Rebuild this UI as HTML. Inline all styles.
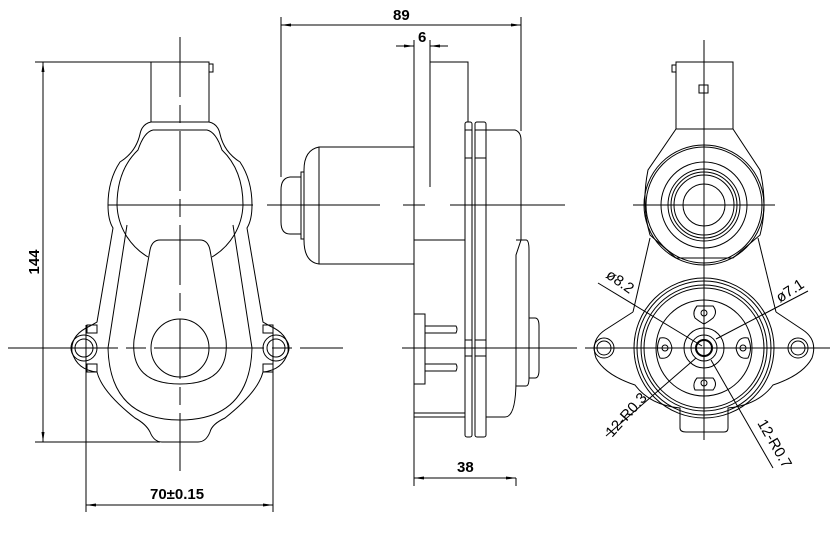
<!DOCTYPE html>
<html><head><meta charset="utf-8"><style>
html,body{margin:0;padding:0;background:#fff}
svg{display:block}
text{font-family:"Liberation Sans",sans-serif;font-size:15px;fill:#000}
</style></head><body>
<svg width="837" height="548" viewBox="0 0 837 548" xmlns="http://www.w3.org/2000/svg">
<defs>
<marker id="a" viewBox="0 0 10 6" refX="10" refY="3" markerWidth="10" markerHeight="6" orient="auto-start-reverse"><path d="M0,1.5 L10,3 L0,4.5 Z" fill="#000"/></marker>
</defs>
<g fill="none" stroke="#000" stroke-width="1">
<!-- ========== LEFT VIEW ========== -->
<line x1="180" y1="37" x2="180" y2="471" stroke-dasharray="60 8 18 8"/>
<line x1="8" y1="348" x2="343" y2="348" stroke-dasharray="110 8 20 8"/>
<line x1="108" y1="205" x2="253" y2="205"/>
<rect x="151" y="62" width="58" height="60"/>
<rect x="209" y="64" width="4" height="8"/>
<!-- outer -->
<path d="M151,122 L209,122 Q218,124 220,134 Q224,152 240,162 Q252,180 252,205 Q252,220 247,228 L263,322 L270,326 Q290,335 288,352 Q283,370 263,372 Q258,392 225,418 Q212,424 210,432 Q206,442 198,442 L162,442 Q154,442 150,432 Q146,424 135,418 Q102,392 97,372 Q77,370 72,352 Q70,335 90,326 L97,322 L113,228 Q108,220 108,205 Q108,180 120,162 Q136,152 140,134 Q142,124 151,122 Z"/>
<path d="M153,130 L207,130 Q216,132 222,150 Q243,170 243,205 A63,63 0 0 1 212,257"/>
<path d="M207,130"/>
<path d="M153,130 Q144,132 138,150 Q117,170 117,205 A63,63 0 0 0 148,257"/>
<!-- tongue -->
<path d="M160,240 L200,240 Q208,240 210,250 L226,340 Q230,384 180,384 Q130,384 134,340 L150,250 Q152,240 160,240 Z"/>
<circle cx="180" cy="348" r="29"/>
<!-- middle outline -->
<path d="M127,225 L108,348 Q110,420 180,420 Q250,420 252,348 L233,225"/>
<!-- ears -->
<circle cx="84" cy="348" r="13"/><circle cx="84" cy="348" r="9"/>
<circle cx="276" cy="348" r="13"/><circle cx="276" cy="348" r="9"/>
<rect x="87" y="325" width="10" height="8"/><rect x="87" y="364" width="10" height="8"/>
<rect x="263" y="325" width="10" height="8"/><rect x="263" y="364" width="10" height="8"/>
<!-- dims -->
<line x1="35" y1="62" x2="151" y2="62"/>
<line x1="35" y1="442" x2="160" y2="442"/>
<line x1="43" y1="62" x2="43" y2="442" marker-start="url(#a)" marker-end="url(#a)"/>
<line x1="86" y1="325" x2="86" y2="512"/>
<line x1="273" y1="325" x2="273" y2="512"/>
<line x1="86" y1="505" x2="273" y2="505" marker-start="url(#a)" marker-end="url(#a)"/>

<!-- ========== SIDE VIEW ========== -->
<line x1="267" y1="205" x2="380" y2="205"/>
<line x1="403" y1="205" x2="425" y2="205"/><line x1="450" y1="205" x2="565" y2="205"/>
<line x1="402" y1="348" x2="577" y2="348"/>
<line x1="281" y1="17" x2="281" y2="177"/>
<line x1="521" y1="17" x2="521" y2="131"/>
<line x1="281" y1="25" x2="521" y2="25" marker-start="url(#a)" marker-end="url(#a)"/>
<line x1="396" y1="46" x2="414" y2="46" marker-end="url(#a)"/>
<line x1="448" y1="46" x2="430" y2="46" marker-end="url(#a)"/>
<line x1="414" y1="40" x2="414" y2="486"/>
<line x1="430" y1="40" x2="430" y2="187"/>
<polyline points="430,62 468,62 468,122"/>
<!-- motor -->
<path d="M414,147 L319,147 Q304,150 304,170 L304,240 Q304,262 319,264 L414,264"/>
<line x1="319" y1="147" x2="319" y2="264"/>
<rect x="301" y="172" width="3" height="67"/>
<path d="M301,177 L290,177 Q281,178 281,190 L281,222 Q281,234 290,234 L301,234"/>
<!-- plates -->
<rect x="465" y="122" width="7" height="315" rx="2"/>
<rect x="475" y="122" width="11" height="315" rx="2"/>
<line x1="465" y1="130" x2="472" y2="130"/><line x1="475" y1="130" x2="486" y2="130"/>
<line x1="465" y1="158" x2="472" y2="158"/><line x1="475" y1="158" x2="486" y2="158"/>
<line x1="465" y1="340" x2="472" y2="340"/><line x1="475" y1="340" x2="486" y2="340"/>
<line x1="465" y1="356" x2="472" y2="356"/><line x1="475" y1="356" x2="486" y2="356"/>
<path d="M486,130 L515,130 Q521,132 521,140 L521,240 L516,255 L516,380 Q516,417 505,417 L486,417"/>
<path d="M516,240 L526,240 Q529,240 529,250 L529,318"/>
<path d="M516,386 L526,386 Q529,386 529,378 L529,318"/>
<path d="M529,318 L535,318 Q539,318 539,326 L539,370 Q539,378 535,378 L529,378"/>
<line x1="414" y1="240" x2="465" y2="240"/>
<line x1="414" y1="417" x2="465" y2="417"/>
<line x1="414" y1="413" x2="465" y2="413"/>
<rect x="414" y="314" width="11" height="70"/>
<path d="M425,326 L456,326 Q458,329 456,333 L425,333"/>
<path d="M425,364 L456,364 Q458,367 456,371 L425,371"/>
<line x1="516" y1="478" x2="516" y2="486"/>
<line x1="414" y1="478" x2="516" y2="478" marker-start="url(#a)" marker-end="url(#a)"/>

<!-- ========== RIGHT VIEW ========== -->
<line x1="704" y1="40" x2="704" y2="440"/>
<line x1="633" y1="205" x2="775" y2="205"/>
<line x1="585" y1="348" x2="830" y2="348"/>
<rect x="676" y="62" width="57" height="67"/>
<rect x="672" y="65" width="4" height="7"/>
<rect x="699" y="85" width="9" height="8"/>
<path d="M676,129 L733,129 L760,170 Q768,205 760,235 L733,258 L676,258 L650,235 Q641,205 648,170 Z"/>
<circle cx="704" cy="205" r="58"/><circle cx="704" cy="205" r="60"/>
<circle cx="704" cy="205" r="43"/><circle cx="704" cy="205" r="36"/><circle cx="704" cy="205" r="33"/><circle cx="704" cy="205" r="30"/><circle cx="704" cy="205" r="21"/>
<line x1="650" y1="238" x2="633" y2="312"/>
<line x1="758" y1="238" x2="776" y2="312"/>
<path d="M633,312 L605,330 Q590,340 596,358 Q605,375 635,385 Q650,405 680,408 L680,428 Q680,432 686,432 L724,432 Q728,432 728,428 L728,408 Q758,405 773,385 Q803,375 812,358 Q818,340 803,330 L776,312"/>
<circle cx="604" cy="348" r="10"/><circle cx="604" cy="348" r="7"/>
<circle cx="798" cy="348" r="10"/><circle cx="798" cy="348" r="7"/>
<circle cx="704" cy="348" r="70"/><circle cx="704" cy="348" r="67"/><circle cx="704" cy="348" r="63"/><circle cx="704" cy="348" r="60"/><circle cx="704" cy="348" r="48"/>
<circle cx="704" cy="348" r="20"/><circle cx="704" cy="348" r="13"/><circle cx="704" cy="348" r="8" stroke-width="2"/>
<path d="M697,306 L713,306 Q718,312 713,318 Q708,322 704,324 Q700,322 695,318 Q692,312 697,306 Z"/>
<circle cx="704" cy="313" r="3"/>
<path d="M697,378 L713,378 Q718,384 713,390 L695,390 Q692,384 697,378 Z"/>
<circle cx="704" cy="383" r="3"/>
<path d="M660,338 Q670,336 672,348 Q670,360 660,358 Q655,348 660,338 Z"/><circle cx="665" cy="348" r="3"/>
<path d="M748,338 Q738,336 736,348 Q738,360 748,358 Q753,348 748,338 Z"/><circle cx="743" cy="348" r="3"/>
<line x1="598" y1="283" x2="702" y2="346"/>
<line x1="808" y1="291" x2="716" y2="339"/>
<line x1="606" y1="436" x2="696" y2="358"/>
<line x1="773" y1="468" x2="711" y2="360"/>
</g>
<!-- labels -->
<text x="393" y="20" font-weight="bold">89</text>
<text x="418" y="42" font-weight="bold" font-size="13">6</text>
<text x="457" y="472" font-weight="bold">38</text>
<text x="150" y="499" font-weight="bold">70±0.15</text>
<text transform="translate(39,262) rotate(-90)" font-weight="bold" text-anchor="middle">144</text>
<text transform="translate(605,277) rotate(35)" font-size="14">ø8.2</text>
<text transform="translate(780,303) rotate(-33)" font-size="14">ø7.1</text>
<text transform="translate(612,438) rotate(-48)" font-size="14">12-R0.3</text>
<text transform="translate(757,423) rotate(60)" font-size="14">12-R0.7</text>
</svg>
</body></html>
